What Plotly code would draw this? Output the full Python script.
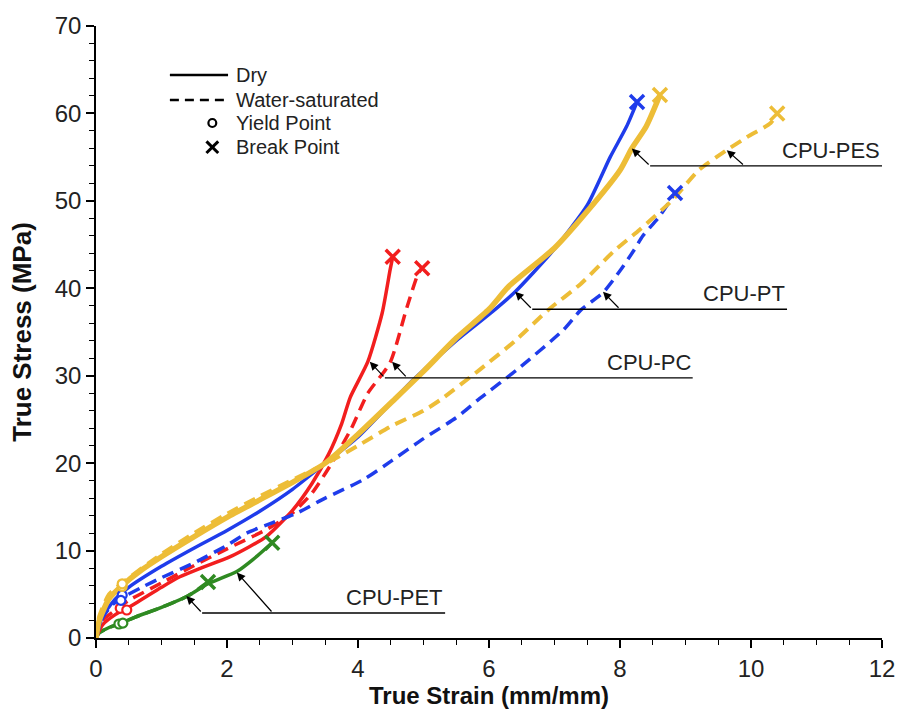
import plotly.graph_objects as go

# ---- stress-strain data (true strain mm/mm, true stress MPa) ----
pes_dry_x = [0, 0.05, 0.2, 0.4, 0.7, 1.0, 1.5, 2.0, 2.5, 3.0, 3.5, 4.0, 4.6, 5.0, 5.5, 6.0, 6.3, 7.0, 7.5, 8.0, 8.18, 8.4, 8.61]
pes_dry_y = [0, 2.0, 4.5, 6.0, 7.8, 9.3, 11.6, 13.8, 15.8, 17.8, 20.0, 23.3, 27.6, 30.5, 34.3, 37.6, 40.2, 44.6, 48.8, 53.5, 56.0, 58.5, 62.1]

pes_wet_x = [0, 0.05, 0.2, 0.4, 1.0, 1.5, 2.0, 2.5, 3.0, 3.5, 4.0, 4.5, 5.0, 5.25, 5.86, 6.4, 6.9, 7.4, 7.9, 8.3, 8.8, 9.2, 9.63, 9.94, 10.3, 10.4]
pes_wet_y = [0, 2.5, 5.0, 6.3, 9.6, 12.0, 14.2, 16.2, 18.1, 19.9, 22.0, 24.2, 26.0, 27.2, 30.7, 34.0, 37.5, 40.5, 44.2, 46.7, 50.1, 53.5, 55.8, 57.3, 58.9, 60.0]

pt_dry_x = [0, 0.1, 0.3, 0.5, 1.0, 1.5, 2.0, 2.5, 3.0, 3.5, 4.0, 4.84, 5.5, 6.0, 6.4, 7.0, 7.5, 7.85, 8.1, 8.26]
pt_dry_y = [0, 2.5, 4.5, 5.8, 8.2, 10.3, 12.3, 14.5, 17.0, 20.0, 23.0, 29.5, 34.0, 37.0, 39.6, 44.5, 49.5, 55.0, 58.5, 61.3]

pt_wet_x = [0, 0.1, 0.25, 0.4, 0.7, 1.0, 1.5, 2.0, 2.3, 2.7, 3.07, 3.5, 4.08, 4.5, 5.0, 5.5, 5.86, 6.43, 7.13, 7.4, 7.74, 8.0, 8.2, 8.35, 8.6, 8.84]
pt_wet_y = [0, 2.3, 3.8, 4.6, 5.8, 6.9, 8.6, 10.6, 12.0, 13.2, 14.3, 16.0, 18.1, 20.2, 22.8, 25.2, 27.4, 30.7, 35.2, 37.5, 39.5, 42.0, 44.2, 46.0, 48.2, 50.9]

pc_dry_x = [0, 0.1, 0.3, 0.5, 1.0, 1.28, 1.6, 2.05, 2.6, 3.0, 3.3, 3.55, 3.75, 3.88, 4.15, 4.37, 4.49, 4.53]
pc_dry_y = [0, 1.5, 2.7, 3.5, 5.8, 7.0, 8.0, 9.3, 11.6, 14.6, 17.7, 21.0, 24.5, 27.5, 31.6, 37.2, 42.1, 43.6]

pc_wet_x = [0, 0.1, 0.3, 0.5, 1.0, 1.5, 2.0, 2.6, 3.0, 3.3, 3.6, 3.9, 4.15, 4.49, 4.75, 4.92, 4.98]
pc_wet_y = [0, 2.0, 3.2, 4.3, 6.3, 8.3, 10.2, 12.4, 14.3, 16.6, 20.0, 24.0, 28.0, 31.5, 37.9, 41.7, 42.3]

pet_dry_x = [0, 0.05, 0.2, 0.38, 0.6, 1.0, 1.4, 1.71, 2.15, 2.4, 2.69]
pet_dry_y = [0, 0.6, 1.2, 1.7, 2.4, 3.5, 4.8, 6.2, 7.6, 9.0, 10.9]

pet_wet_x = [0, 0.05, 0.2, 0.38, 0.6, 1.0, 1.4, 1.71]
pet_wet_y = [0, 0.6, 1.2, 1.7, 2.4, 3.5, 4.8, 6.4]

# yield points (dry, wet) per material
yield_pes_x = [0.40, 0.40]
yield_pes_y = [5.9, 6.2]
yield_pt_x = [0.40, 0.38]
yield_pt_y = [4.9, 4.3]
yield_pc_x = [0.37, 0.47]
yield_pc_y = [3.4, 3.2]
yield_pet_x = [0.35, 0.41]
yield_pet_y = [1.6, 1.7]

YELLOW = "#EDBD37"
BLUE = "#1F3CEB"
RED = "#F21E1E"
GREEN = "#2F8A22"
WET_DASH = "12px,7px"
FONT = "Liberation Sans, Arial, sans-serif"

series = [
    # name, x, y, colour, dashed, width
    ("CPU-PET dry", pet_dry_x, pet_dry_y, GREEN, False, 3.5),
    ("CPU-PET wet", pet_wet_x, pet_wet_y, GREEN, True, 3.5),
    ("CPU-PC wet", pc_wet_x, pc_wet_y, RED, True, 3.5),
    ("CPU-PC dry", pc_dry_x, pc_dry_y, RED, False, 3.5),
    ("CPU-PT wet", pt_wet_x, pt_wet_y, BLUE, True, 3.5),
    ("CPU-PT dry", pt_dry_x, pt_dry_y, BLUE, False, 3.5),
    ("CPU-PES wet", pes_wet_x, pes_wet_y, YELLOW, True, 4),
    ("CPU-PES dry", pes_dry_x, pes_dry_y, YELLOW, False, 5.5),
]

fig = go.Figure()

for name, xs, ys, col, wet, w in series:
    fig.add_trace(go.Scatter(
        x=xs, y=ys, mode="lines", name=name,
        line=dict(color=col, width=w, dash=WET_DASH if wet else "solid",
                  shape="spline", smoothing=0.6),
        showlegend=False,
    ))

for xs, ys, col in [(yield_pet_x, yield_pet_y, GREEN), (yield_pc_x, yield_pc_y, RED),
                    (yield_pt_x, yield_pt_y, BLUE), (yield_pes_x, yield_pes_y, YELLOW)]:
    fig.add_trace(go.Scatter(
        x=xs, y=ys, mode="markers", showlegend=False,
        marker=dict(symbol="circle", size=9, color="white",
                    line=dict(color=col, width=2.2)),
    ))

# break point at the last sample of every curve
for name, xs, ys, col, wet, w in series:
    fig.add_trace(go.Scatter(
        x=[xs[-1]], y=[ys[-1]], mode="markers", showlegend=False,
        marker=dict(symbol="x-thin-open", size=14, color=col, line=dict(color=col, width=3.5)),
    ))

# ---- callout labels: horizontal leader with arrows pointing to the curves ----
callouts = [
    # label, line y, line x start, line x end, [(tail x, head x, head y), ...]
    ("CPU-PES", 54.0, 8.46, 12.0, [(8.46, 8.18, 56.0), (9.9, 9.63, 55.8)]),
    ("CPU-PT", 37.6, 6.66, 10.55, [(6.66, 6.40, 39.6), (8.0, 7.74, 39.6)]),
    ("CPU-PC", 29.75, 4.41, 9.11, [(4.41, 4.18, 31.6), (4.75, 4.52, 31.6)]),
    ("CPU-PET", 2.86, 1.62, 5.33, [(1.62, 1.38, 4.8), (2.70, 2.15, 7.5)]),
]

shapes = []
annotations = []
for label, ly, x0, x1, arrows in callouts:
    shapes.append(dict(type="line", xref="x", yref="y", x0=x0, x1=x1, y0=ly, y1=ly,
                       line=dict(color="black", width=1.3)))
    for tx, hx, hy in arrows:
        annotations.append(dict(x=hx, y=hy, ax=tx, ay=ly, xref="x", yref="y",
                                axref="x", ayref="y", text="", showarrow=True,
                                arrowhead=2, arrowsize=1.4, arrowwidth=1.2,
                                arrowcolor="black", standoff=0))
    annotations.append(dict(x=x1, y=ly, xref="x", yref="y", text=label, showarrow=False,
                            xanchor="right", yanchor="bottom", yshift=1,
                            font=dict(family=FONT, size=22, color="#222")))

# ---- key in the upper-left corner ----
kx0, kx1, kmark, ktext = 0.094, 0.168, 0.148, 0.176
key_rows = [("Dry", 0.920), ("Water-saturated", 0.879), ("Yield Point", 0.8415), ("Break Point", 0.802)]
shapes.append(dict(type="line", xref="paper", yref="paper", x0=kx0, x1=kx1, y0=0.920, y1=0.920,
                   line=dict(color="black", width=2.5)))
shapes.append(dict(type="line", xref="paper", yref="paper", x0=kx0, x1=kx1, y0=0.879, y1=0.879,
                   line=dict(color="black", width=2.5, dash="9px,6px")))
shapes.append(dict(type="circle", xref="paper", yref="paper",
                   x0=kmark - 0.005, x1=kmark + 0.005, y0=0.8415 - 0.0065, y1=0.8415 + 0.0065,
                   line=dict(color="black", width=2.2)))
dx, dy = 0.0075, 0.0095
for sgn in (1, -1):
    shapes.append(dict(type="line", xref="paper", yref="paper",
                       x0=kmark - dx, x1=kmark + dx, y0=0.802 - sgn * dy, y1=0.802 + sgn * dy,
                       line=dict(color="black", width=3)))
for txt, ky in key_rows:
    annotations.append(dict(x=ktext, y=ky, xref="paper", yref="paper", text=txt, showarrow=False,
                            xanchor="left", yanchor="middle",
                            font=dict(family=FONT, size=20, color="#222")))

fig.update_layout(
    width=899, height=713,
    margin=dict(l=96, r=17, t=26, b=75),
    paper_bgcolor="white", plot_bgcolor="white",
    shapes=shapes, annotations=annotations,
    showlegend=False,
    xaxis=dict(
        range=[0, 12], dtick=2, tick0=0, showgrid=False, zeroline=False, automargin=False,
        showline=True, linecolor="black", linewidth=1.5,
        ticks="outside", ticklen=8, tickwidth=1.5, tickcolor="black",
        minor=dict(dtick=0.5, ticks="outside", ticklen=5, tickwidth=1.2, tickcolor="black", showgrid=False),
        tickfont=dict(family=FONT, size=24, color="#222"),
        title=dict(text="<b>True Strain (mm/mm)</b>", standoff=0,
                   font=dict(family=FONT, size=24, color="#111")),
    ),
    yaxis=dict(
        range=[0, 70], dtick=10, tick0=0, showgrid=False, zeroline=False, automargin=False,
        showline=True, linecolor="black", linewidth=1.5,
        ticks="outside", ticklen=8, tickwidth=1.5, tickcolor="black",
        minor=dict(dtick=2, ticks="outside", ticklen=5, tickwidth=1.2, tickcolor="black", showgrid=False),
        tickfont=dict(family=FONT, size=24, color="#222"),
        title=dict(text="<b>True Stress (MPa)</b>", standoff=16,
                   font=dict(family=FONT, size=26, color="#111")),
    ),
)

fig.write_html("out.html")
